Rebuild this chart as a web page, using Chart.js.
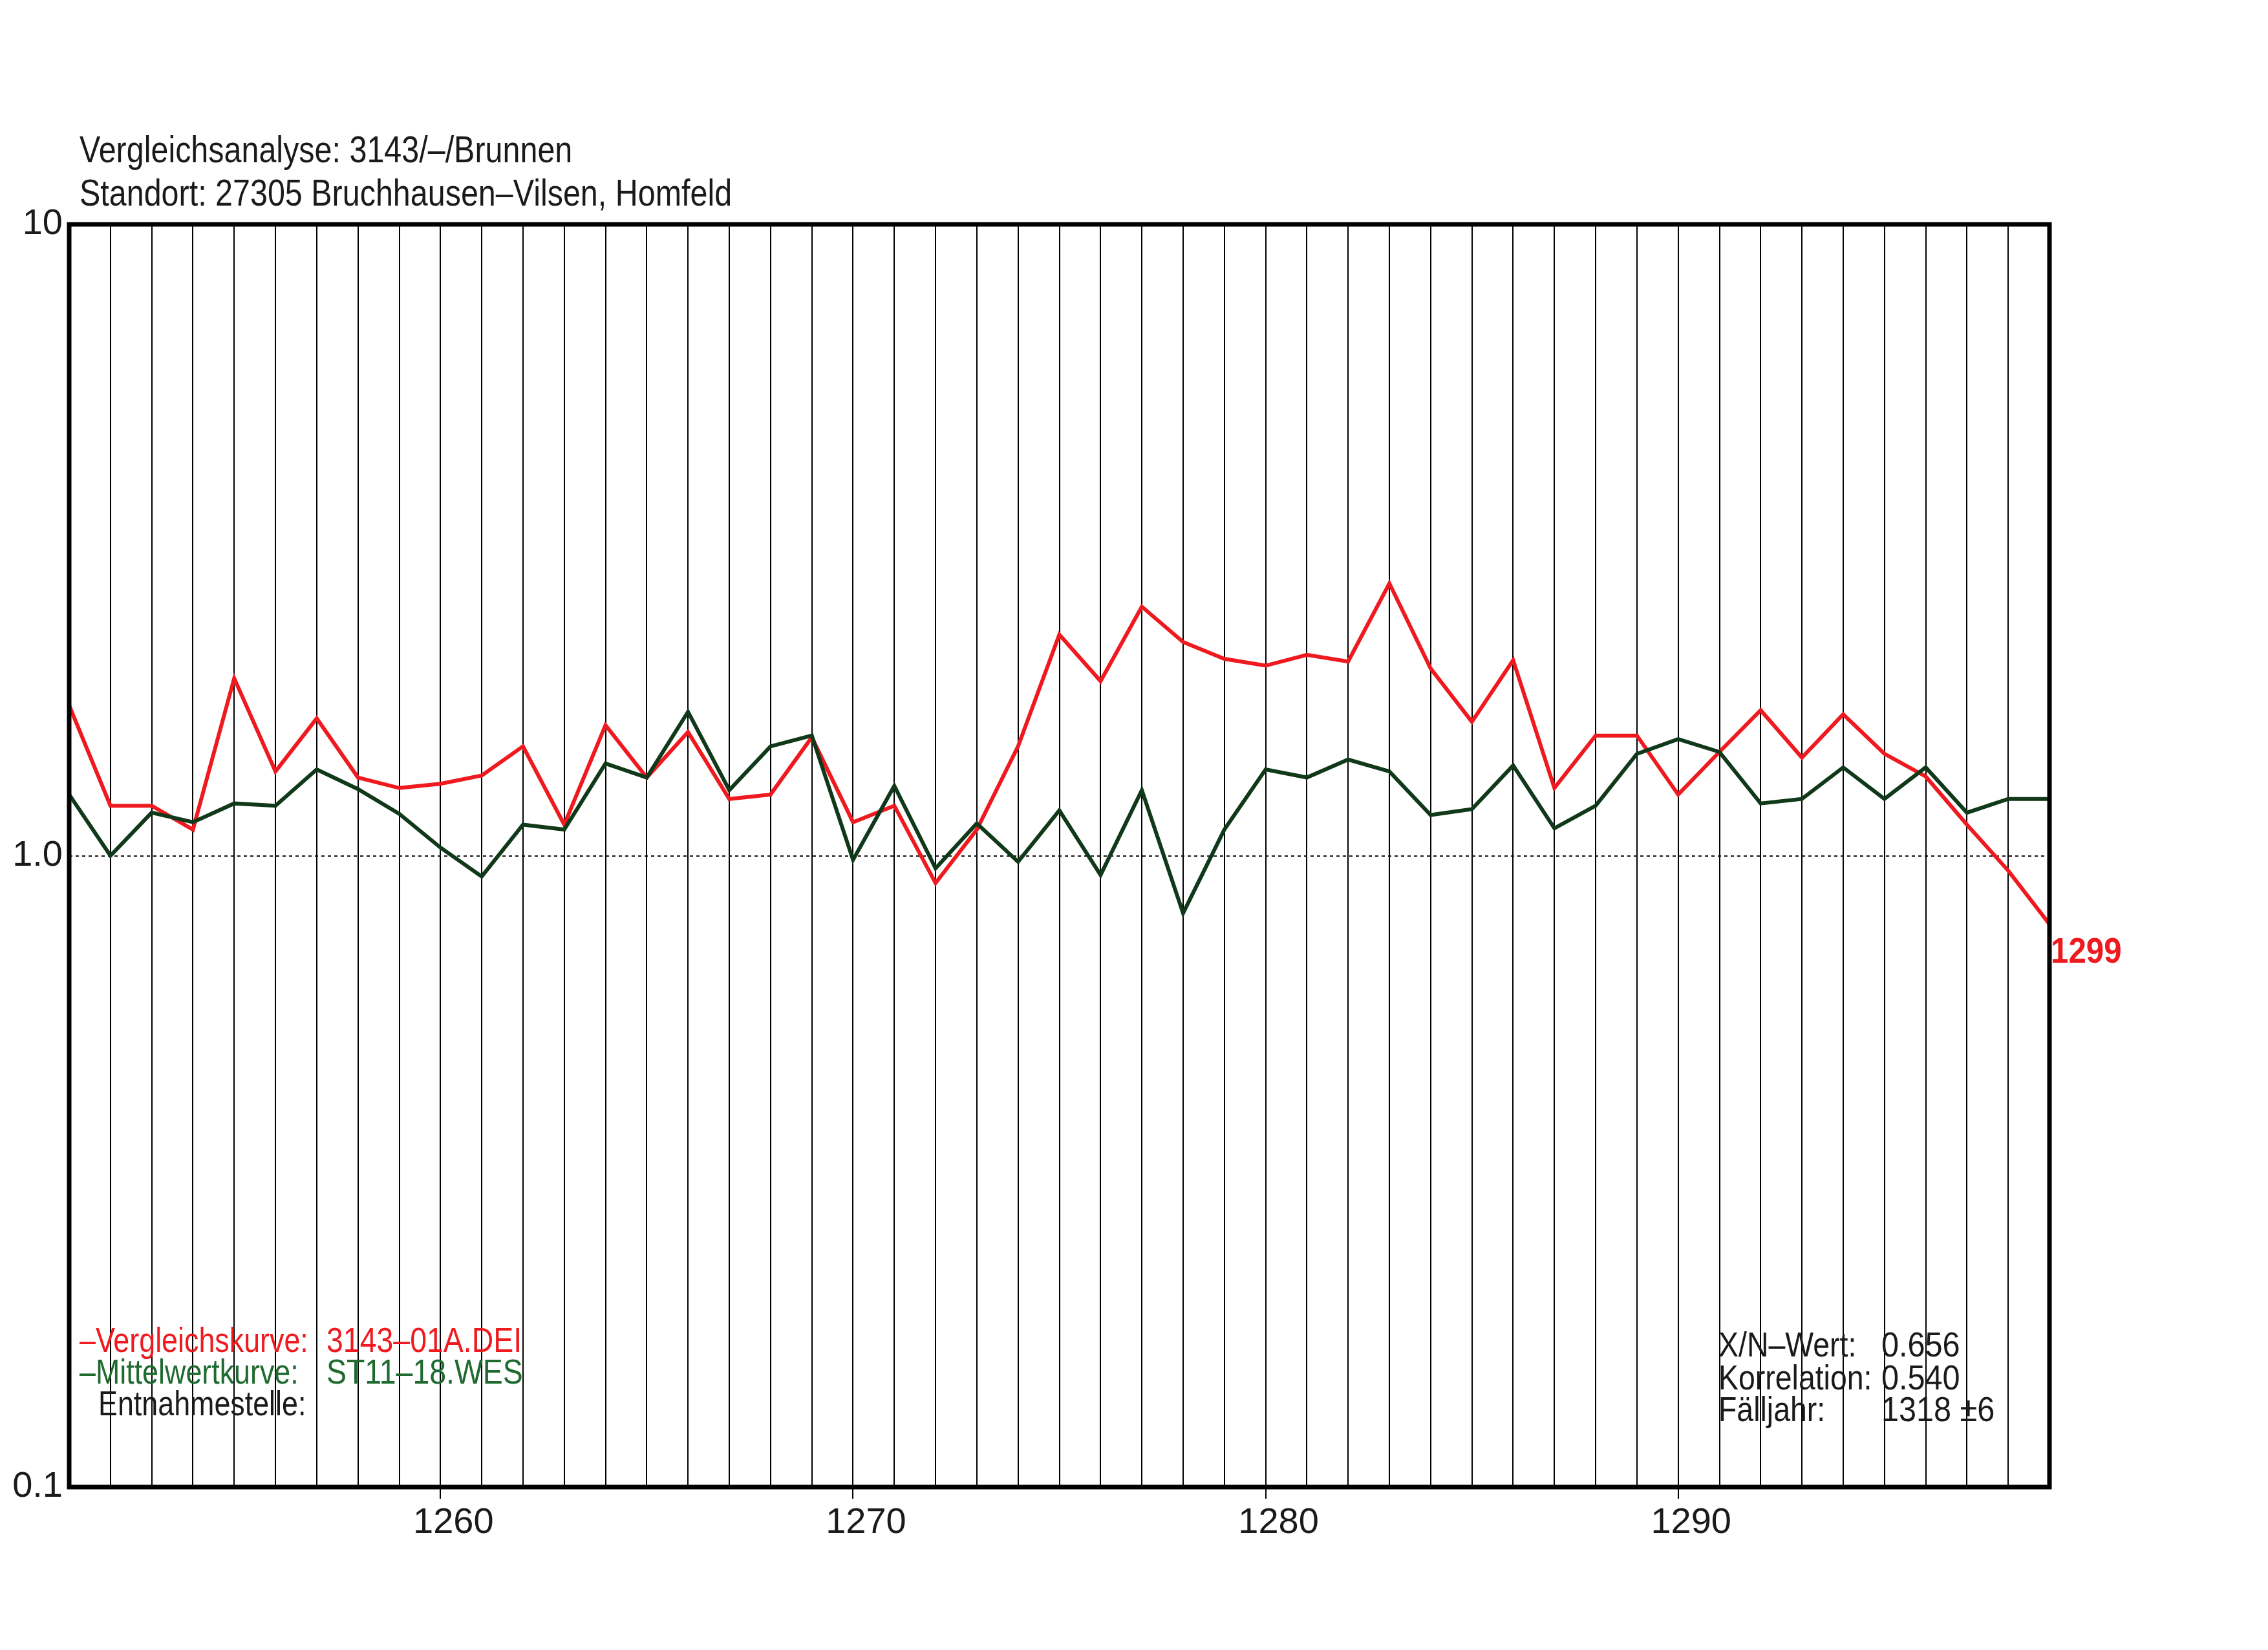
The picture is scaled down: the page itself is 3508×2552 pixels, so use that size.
<!DOCTYPE html>
<html>
<head>
<meta charset="utf-8">
<script src="https://cdn.jsdelivr.net/npm/chart.js@4.4.1/dist/chart.umd.min.js"></script>
<style>
  html, body { margin: 0; padding: 0; background: #fff; }
  canvas { display: block; }
</style>
</head>
<body>
<canvas id="chart" width="3508" height="2552"></canvas>
<script>
// years of the comparison window
const years = [];
for (let y = 1251; y <= 1299; y++) years.push(y);

// Vergleichskurve 3143-01A.DEI (red)
const redValues = [1.73, 1.20, 1.20, 1.10, 1.91, 1.36, 1.65, 1.33, 1.28, 1.30,
  1.34, 1.49, 1.12, 1.61, 1.33, 1.57, 1.23, 1.25, 1.54, 1.13,
  1.20, 0.905, 1.10, 1.49, 2.24, 1.89, 2.48, 2.18, 2.05, 2.00,
  2.08, 2.03, 2.70, 1.98, 1.63, 2.04, 1.28, 1.55, 1.55, 1.25,
  1.46, 1.70, 1.43, 1.675, 1.45, 1.335, 1.12, 0.947, 0.779];

// Mittelwertkurve ST11-18.WES (green)
const greenValues = [1.25, 1.00, 1.17, 1.13, 1.21, 1.20, 1.37, 1.275, 1.165, 1.03,
  0.927, 1.12, 1.10, 1.40, 1.33, 1.69, 1.27, 1.49, 1.55, 0.985,
  1.29, 0.955, 1.125, 0.978, 1.18, 0.932, 1.27, 0.811, 1.10, 1.37,
  1.33, 1.42, 1.36, 1.16, 1.185, 1.39, 1.105, 1.20, 1.45, 1.53,
  1.46, 1.21, 1.23, 1.38, 1.23, 1.38, 1.17, 1.23, 1.23];

const yTicks = [0.1, 1, 10];
const yTickLabels = ['0.1', '1.0', '10'];

const titleLines = ['Vergleichsanalyse: 3143/\u2013/Brunnen',
  'Standort: 27305 Bruchhausen\u2013Vilsen, Homfeld'];
const legendRows = [
  ['\u2013Vergleichskurve:', '3143\u201301A.DEI'],
  ['\u2013Mittelwertkurve:', 'ST11\u201318.WES'],
  ['Entnahmestelle:', '']
];
const statRows = [
  ['X/N\u2013Wert:', '0.656'],
  ['Korrelation:', '0.540'],
  ['F\u00e4lljahr:', '1318 \u00b16']
];
const endLabel = '1299';

const FONT = '"Liberation Sans", Arial, sans-serif';
const RED = '#ee1a1f';
const GREEN_LINE = '#10391a';
const GREEN_TEXT = '#1f6a2f';

// narrow plotter-like lettering: squeeze text horizontally
function narrowText(ctx, str, x, y, sx) {
  ctx.save();
  ctx.translate(x, y);
  ctx.scale(sx, 1);
  ctx.fillText(str, 0, 0);
  ctx.restore();
}

// frame + all the free texts
const annotations = {
  id: 'annotations',
  afterDraw(chart) {
    const ctx = chart.ctx;
    const a = chart.chartArea;
    ctx.save();
    ctx.strokeStyle = '#000';
    ctx.lineWidth = 7;
    ctx.strokeRect(a.left, a.top, a.right - a.left, a.bottom - a.top);

    ctx.textBaseline = 'middle';
    ctx.textAlign = 'left';
    ctx.font = '57px ' + FONT;
    ctx.fillStyle = '#1a1a1a';
    narrowText(ctx, titleLines[0], 123, 235, 0.85);
    narrowText(ctx, titleLines[1], 123, 302, 0.85);

    ctx.font = '54px ' + FONT;
    const legendColors = [RED, GREEN_TEXT, '#1a1a1a'];
    const legendY = [2076, 2125, 2174];
    legendRows.forEach((r, i) => {
      ctx.fillStyle = legendColors[i];
      narrowText(ctx, r[0], i === 2 ? 152 : 123, legendY[i], 0.83);
      if (r[1]) narrowText(ctx, r[1], 505, legendY[i], 0.86);
    });

    const statY = [2083, 2134, 2183];
    ctx.fillStyle = '#1a1a1a';
    statRows.forEach((r, i) => {
      narrowText(ctx, r[0], 2658, statY[i], 0.86);
      narrowText(ctx, r[1], 2910, statY[i], 0.9);
    });

    // end year marker next to the last point of the red curve
    const xs = chart.scales.x;
    const ys = chart.scales.y;
    ctx.fillStyle = RED;
    ctx.font = 'bold 56px ' + FONT;
    narrowText(ctx, endLabel, xs.getPixelForValue(years.length - 1) + 2,
      ys.getPixelForValue(redValues[redValues.length - 1]) + 44, 0.88);
    ctx.restore();
  }
};

const ctx = document.getElementById('chart').getContext('2d');
new Chart(ctx, {
  type: 'line',
  data: {
    labels: years,
    datasets: [{
      label: 'Vergleichskurve',
      data: redValues,
      borderColor: RED,
      borderWidth: 6,
      pointRadius: 0,
      tension: 0,
      order: 2
    }, {
      label: 'Mittelwertkurve',
      data: greenValues,
      borderColor: GREEN_LINE,
      borderWidth: 6,
      pointRadius: 0,
      tension: 0,
      order: 1
    }]
  },
  options: {
    responsive: false,
    devicePixelRatio: 1,
    animation: false,
    layout: { padding: { top: 347, right: 338, bottom: 0, left: 0 } },
    plugins: { legend: { display: false }, tooltip: { enabled: false } },
    scales: {
      x: {
        type: 'category',
        offset: false,
        border: { display: false },
        grid: {
          offset: false,
          color: '#000',
          lineWidth: 2,
          drawTicks: true,
          tickLength: 18,
          tickWidth: 2,
          tickColor: c => (years[c.index] % 10 === 0 ? '#000' : 'rgba(0,0,0,0)')
        },
        ticks: {
          autoSkip: false,
          maxRotation: 0,
          padding: 4,
          labelOffset: 20,
          color: '#1a1a1a',
          font: { size: 56, family: FONT },
          callback: (v, i) => (years[i] % 10 === 0 ? String(years[i]) : '')
        },
        afterFit: s => { s.height = 252; }
      },
      y: {
        type: 'logarithmic',
        min: 0.1,
        max: 10,
        border: { display: false, dash: [5, 5] },
        grid: {
          drawTicks: false,
          lineWidth: 2,
          color: c => (c.tick && c.tick.value === 1 ? '#111' : 'rgba(0,0,0,0)')
        },
        afterBuildTicks: s => { s.ticks = yTicks.map(v => ({ value: v })); },
        ticks: {
          padding: 10,
          color: '#1a1a1a',
          font: { size: 56, family: FONT },
          callback: v => yTickLabels[yTicks.indexOf(v)]
        },
        afterFit: s => { s.width = 107; }
      }
    }
  },
  plugins: [annotations]
});
</script>
</body>
</html>
